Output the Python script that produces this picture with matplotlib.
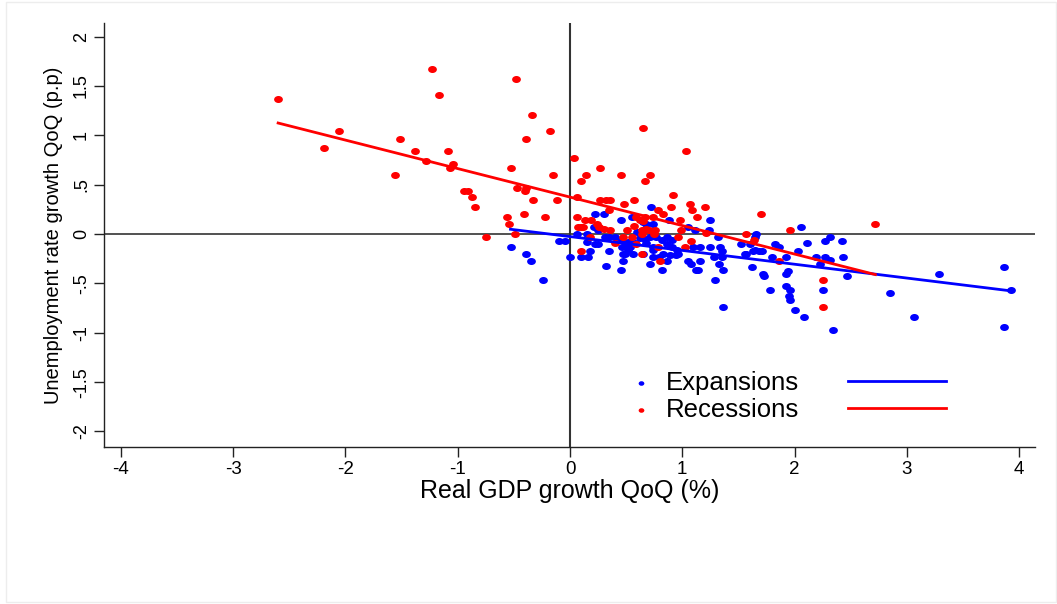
import numpy as np
import matplotlib
matplotlib.use("Agg")
import matplotlib.pyplot as plt
from matplotlib.path import Path
from matplotlib.patches import Rectangle

plt.rcParams["font.family"] = ["Liberation Sans", "DejaVu Sans"]

# Quarterly real GDP growth (%) vs change in unemployment rate (p.p.)
recession_gdp = [
    -2.60, -1.23, -1.17, -0.48, -0.34, -2.06, -2.19, -0.18, -1.51, -0.39,
    -1.38, -1.09, -1.28, -1.04, -1.07, -1.56, -0.53, -0.15, 0.04, -0.94,
    -0.91, -0.87, -0.85, -0.47, -0.39, -0.40, -0.33, -0.12, 0.06, -0.56,
    -0.54, -0.41, -0.22, 0.065, -0.49, -0.75, 0.07, 0.10, 0.10, 0.65,
    0.14, 0.27, 0.45, 0.71, 0.67, 1.03, 0.27, 0.32, 0.36, 0.48,
    0.57, 0.92, 1.07, 1.09, 1.20, 1.13, 1.70, 0.90, 0.78, 0.83,
    0.98, 0.35, 0.13, 0.19, 0.10, 0.12, 0.24, 0.26, 0.30, 0.36,
    0.59, 0.62, 0.67, 0.65, 0.74, 0.68, 0.51, 0.57, 0.99, 1.21,
    1.57, 1.64, 0.18, 0.47, 0.55, 0.64, 0.96, 0.40, 0.59, 0.78,
    1.08, 1.02, 0.64, 0.80, 1.86, 1.96, 2.72, 2.25, 2.25, 0.64,
    0.70, 0.76, 0.75,
]
recession_unemp = [
    1.37, 1.67, 1.41, 1.57, 1.21, 1.04, 0.87, 1.04, 0.965, 0.965,
    0.84, 0.84, 0.74, 0.71, 0.67, 0.60, 0.67, 0.60, 0.77, 0.44,
    0.44, 0.37, 0.27, 0.47, 0.47, 0.44, 0.34, 0.34, 0.37, 0.17,
    0.10, 0.20, 0.17, 0.17, 0.00, -0.03, 0.07, 0.54, -0.17, 1.07,
    0.60, 0.67, 0.60, 0.60, 0.54, 0.84, 0.34, 0.34, 0.34, 0.30,
    0.34, 0.40, 0.30, 0.24, 0.27, 0.17, 0.20, 0.27, 0.24, 0.20,
    0.14, 0.24, 0.14, 0.14, 0.07, 0.07, 0.10, 0.07, 0.05, 0.04,
    0.17, 0.14, 0.17, 0.13, 0.17, 0.05, 0.04, 0.08, 0.04, 0.01,
    0.00, -0.06, -0.03, -0.03, -0.03, 0.00, -0.03, -0.09, -0.10, -0.13,
    -0.07, -0.13, -0.20, -0.27, -0.27, 0.04, 0.10, -0.47, -0.74, 0.04,
    0.04, 0.04, 0.00,
]

expansion_gdp = [
    -0.53, -0.39, -0.35, -0.24, -0.10, -0.045, 0.00, 0.06, 0.22, 0.30,
    0.45, 0.72, 0.55, 0.74, 0.88, 1.25, 1.24, 1.05, 1.11, 1.32,
    1.66, 1.83, 0.21, 0.25, 0.15, 0.31, 0.35, 0.15, 0.22, 0.25,
    0.45, 0.50, 0.53, 0.71, 0.77, 0.82, 0.86, 0.91, 0.68, 0.74,
    0.86, 0.91, 0.95, 0.83, 0.89, 0.96, 1.10, 1.16, 1.25, 1.34,
    1.35, 1.28, 1.35, 1.57, 1.63, 1.68, 0.18, 0.10, 0.16, 0.35,
    0.47, 0.56, 0.47, 0.32, 0.45, 0.71, 0.74, 0.79, 0.86, 0.94,
    0.82, 1.05, 1.08, 1.16, 1.12, 1.14, 1.33, 1.36, 1.29, 1.36,
    1.62, 1.72, 1.73, 1.78, 2.06, 1.65, 2.27, 2.32, 2.42, 2.11,
    1.52, 1.60, 1.86, 2.03, 1.56, 1.65, 1.71, 1.80, 1.92, 2.19,
    2.27, 2.32, 2.43, 2.23, 1.92, 1.94, 2.47, 3.29, 3.87, 3.93,
    2.85, 1.92, 1.96, 1.95, 1.96, 2.00, 2.08, 2.25, 2.34, 3.06,
    3.87, 0.65, 0.68, 0.52, 0.58, 0.62, 0.46, 0.52, 0.49, 0.65,
    0.74, 0.67, 0.40, 0.60,
]
expansion_unemp = [
    -0.13, -0.20, -0.27, -0.47, -0.07, -0.07, -0.23, 0.00, 0.20, 0.20,
    0.14, 0.27, 0.17, 0.10, 0.14, 0.14, 0.04, 0.07, 0.04, -0.03,
    0.00, -0.10, 0.07, 0.04, 0.00, -0.03, -0.03, -0.08, -0.10, -0.10,
    -0.06, -0.10, -0.13, -0.03, -0.03, -0.06, -0.03, -0.06, -0.09, -0.13,
    -0.10, -0.13, -0.16, -0.20, -0.21, -0.20, -0.13, -0.13, -0.13, -0.13,
    -0.17, -0.23, -0.23, -0.20, -0.17, -0.17, -0.17, -0.23, -0.23, -0.17,
    -0.20, -0.20, -0.27, -0.32, -0.36, -0.30, -0.23, -0.23, -0.27, -0.21,
    -0.36, -0.27, -0.30, -0.27, -0.36, -0.36, -0.30, -0.36, -0.47, -0.74,
    -0.33, -0.40, -0.43, -0.57, 0.07, -0.03, -0.07, -0.03, -0.07, -0.09,
    -0.10, -0.10, -0.13, -0.17, -0.20, -0.16, -0.17, -0.23, -0.23, -0.23,
    -0.23, -0.26, -0.23, -0.30, -0.41, -0.37, -0.43, -0.40, -0.33, -0.57,
    -0.60, -0.53, -0.57, -0.63, -0.67, -0.77, -0.84, -0.57, -0.97, -0.84,
    -0.94, 0.12, 0.10, -0.08, -0.09, -0.04, -0.13, -0.16, -0.20, -0.20,
    -0.16, -0.05, -0.03, 0.02,
]

# Linear fits (slope, intercept) for each regime
expansion_fit = (-0.140, -0.026)
recession_fit = (-0.2885, 0.374)

x_ticks = [-4, -3, -2, -1, 0, 1, 2, 3, 4]
x_tick_labels = ["-4", "-3", "-2", "-1", "0", "1", "2", "3", "4"]
y_ticks = [2, 1.5, 1, 0.5, 0, -0.5, -1, -1.5, -2]
y_tick_labels = ["2", "1.5", "1", ".5", "0", "-.5", "-1", "-1.5", "-2"]

W, H = 1057, 604
fig = plt.figure(figsize=(W / 100, H / 100), dpi=100)
fig.patch.set_facecolor("white")

# faint outer frame
fig.patches.append(Rectangle((6 / W, 0.004), 1 - 7 / W, 0.992, transform=fig.transFigure,
                             fill=False, edgecolor="#ededed", lw=1.0))

ax = fig.add_axes([104 / W, (H - 447) / H, (1035 - 104) / W, (447 - 23) / H])

# slightly wide elliptical dot
dot = Path(Path.unit_circle().vertices * [1.25, 1.0], Path.unit_circle().codes)

BLUE = "#0000ff"
RED = "#ff0000"

ax.axhline(0, color="#222222", lw=1.1, zorder=1)
ax.axvline(0, color="#333333", lw=1.5, zorder=1)

sc_exp = ax.scatter(expansion_gdp, expansion_unemp, s=40, marker=dot, color=BLUE,
                    linewidths=0, zorder=3)
sc_rec = ax.scatter(recession_gdp, recession_unemp, s=40, marker=dot, color=RED,
                    linewidths=0, zorder=3)

xe = np.array([min(expansion_gdp), max(expansion_gdp)])
xr = np.array([min(recession_gdp), max(recession_gdp)])
ln_exp, = ax.plot(xe, expansion_fit[0] * xe + expansion_fit[1], color=BLUE, lw=2.0, zorder=4)
ln_rec, = ax.plot(xr, recession_fit[0] * xr + recession_fit[1], color=RED, lw=2.0, zorder=4)

ax.set_xlim(-4.151, 4.142)
ax.set_ylim(-2.157, 2.137)
ax.set_xticks(x_ticks)
ax.set_xticklabels(x_tick_labels)
ax.set_yticks(y_ticks)
ax.set_yticklabels(y_tick_labels, rotation=90, va="center")

for side in ("top", "right"):
    ax.spines[side].set_visible(False)
for side in ("left", "bottom"):
    ax.spines[side].set_color("#222222")
    ax.spines[side].set_linewidth(1.0)

ax.tick_params(axis="both", direction="out", length=7, width=1.0, color="#222222",
               labelsize=13, pad=3)
ax.tick_params(axis="x", labelsize=13.5)

ax.set_xlabel("Real GDP growth QoQ (%)", fontsize=18, labelpad=1)
ax.set_ylabel("Unemployment rate growth QoQ (p.p)", fontsize=14.5, labelpad=7)

# legend: markers with labels, then the matching fit lines in a second column
leg_fs = 18.5
fs_px = leg_fs * 100 / 72
h1 = 0.45
pad1 = (25 - h1 * fs_px / 2) / fs_px
leg1 = fig.legend([sc_exp, sc_rec], ["Expansions", "Recessions"], loc="center left",
                  bbox_to_anchor=((641 - h1 * fs_px / 2) / W, 1 - 396.5 / H),
                  frameon=False, fontsize=leg_fs, handlelength=h1, handletextpad=pad1,
                  labelspacing=0.1, borderpad=0, borderaxespad=0, scatterpoints=1,
                  markerscale=0.65)
leg2 = fig.legend([ln_exp, ln_rec], [" ", " "], loc="center left",
                  bbox_to_anchor=(848 / W, 1 - 396.5 / H),
                  frameon=False, fontsize=leg_fs, handlelength=98 / fs_px,
                  handletextpad=0, labelspacing=0.1, borderpad=0, borderaxespad=0)

fig.savefig("out.png", dpi=100, facecolor="white")
